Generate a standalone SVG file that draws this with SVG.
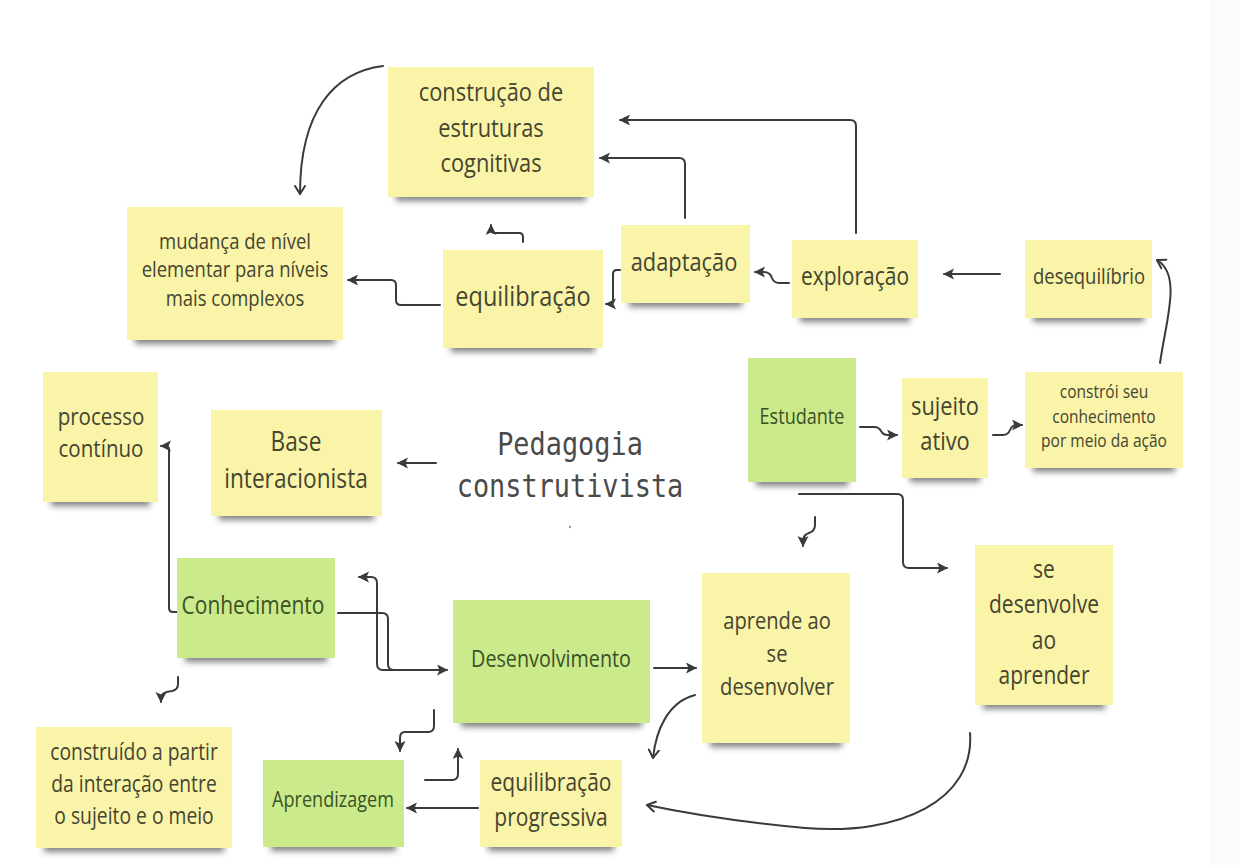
<svg xmlns="http://www.w3.org/2000/svg" width="1239" height="865" viewBox="0 0 1239 865">
  <style>
    .y { fill: #faf4a9; }
    .g { fill: #cbea8c; }
    .sh { fill: #2e2e2e; opacity: .6; filter: url(#blur); }
    .t { font-family: "Open Sans", "Liberation Sans", sans-serif; text-anchor: middle; fill: #454530; }
    .tg { font-family: "Open Sans", "Liberation Sans", sans-serif; text-anchor: middle; fill: #3a5224; }
    .mono { font-family: "DejaVu Sans Mono", "Liberation Mono", monospace; text-anchor: middle; fill: #4a4a4a; font-size: 32px; }
    .c { fill: none; stroke: #3a3a3a; stroke-width: 2; stroke-linecap: round; stroke-linejoin: round; }
    .f { marker-end: url(#arrowFilled); }
    .o { marker-end: url(#arrowOpen); }
  </style>
  <defs>
    <filter id="blur" x="-20%" y="-100%" width="140%" height="300%">
      <feGaussianBlur stdDeviation="3"/>
    </filter>
    <marker id="arrowFilled" markerUnits="userSpaceOnUse" markerWidth="13" markerHeight="13" refX="10" refY="5.5" orient="auto">
      <path d="M0,0 L11,5.5 L0,11 L2.5,5.5 Z" fill="#3a3a3a"/>
    </marker>
    <marker id="arrowOpen" markerUnits="userSpaceOnUse" markerWidth="14" markerHeight="14" refX="9" refY="6" orient="auto">
      <path d="M1,1 L9,6 L1,11" fill="none" stroke="#3a3a3a" stroke-width="2" stroke-linecap="round" stroke-linejoin="round"/>
    </marker>
  </defs>

  <rect width="1239" height="865" fill="#ffffff"/>
  <rect x="1210" y="0" width="29" height="865" fill="#fbfbfb"/>

  <!-- connectors -->
  <g id="connectors">
    <path class="c o" d="M383,66 C335,72 300,110 300,194"/>
    <path class="c f" d="M856,233 V126 Q856,120 850,120 H620"/>
    <path class="c f" d="M685,218 V164 Q685,158 679,158 H600"/>
    <path class="c f" d="M523,242 V237 Q523,233 519,233 H495 Q491,233 491,229 V225"/>
    <path class="c f" d="M440,305 H401 Q396,305 396,300 V285 Q396,280 391,280 H348"/>
    <path class="c f" d="M620,270 H617 Q613,270 613,274 V300 Q613,304 609,304 H606"/>
    <path class="c f" d="M789,283 H779 Q774,283 772,278 Q770,272 764,272 H755"/>
    <path class="c f" d="M1000,274 H944"/>
    <path class="c o" d="M1160,363 C1166,320 1182,275 1157,260"/>
    <path class="c f" d="M860,427 H874 Q879,427 881,431 Q883,435 888,435 H897"/>
    <path class="c f" d="M993,435 H1003 Q1008,435 1010,430 Q1012,425 1017,425 H1022"/>
    <path class="c f" d="M799,494 H897 Q903,494 903,500 V562 Q903,568 909,568 H947"/>
    <path class="c f" d="M815,517 V525 Q815,531 809,533 Q803,535 803,541 V546"/>
    <path class="c f" d="M436,463 H398"/>
    <path class="c f" d="M177,612 H173 Q169,612 169,608 V450 Q169,446 165,446 H161"/>
    <path class="c f" d="M338,613 H382 Q388,613 388,619 V664 Q388,670 394,670 H447"/>
    <path class="c f" d="M394,670 H383 Q377,670 377,664 V583 Q377,577 371,577 H359"/>
    <path class="c f" d="M654,668 H696"/>
    <path class="c f" d="M178,677 V684 Q178,690 172,691 Q161,692 161,698 V702"/>
    <path class="c f" d="M434,710 V726 Q434,732 428,732 H405 Q400,732 400,738 V751"/>
    <path class="c f" d="M425,780 H452 Q458,780 458,774 V749"/>
    <path class="c f" d="M478,808 H407"/>
    <path class="c o" d="M695,695 C668,702 656,730 653,758"/>
    <path class="c o" d="M970,733 C975,800 900,836 805,828 C740,822 680,812 647,805"/>
  </g>

  <!-- sticky notes -->
  <g id="construcao">
    <rect class="sh" x="396" y="187" width="190" height="14"/>
    <rect class="y" x="388" y="67" width="206" height="130"/>
    <g transform="translate(491 0) scale(.84 1)">
      <text class="t" font-size="26" y="101">construção de</text>
      <text class="t" font-size="26" y="137">estruturas</text>
      <text class="t" font-size="26" y="172">cognitivas</text>
    </g>
  </g>

  <g id="mudanca">
    <rect class="sh" x="135" y="330" width="200" height="14"/>
    <rect class="y" x="127" y="207" width="216" height="133"/>
    <g transform="translate(235 0) scale(.84 1)">
      <text class="t" font-size="22" y="249">mudança de nível</text>
      <text class="t" font-size="22" y="277">elementar para níveis</text>
      <text class="t" font-size="22" y="306">mais complexos</text>
    </g>
  </g>

  <g id="equilibracao">
    <rect class="sh" x="451" y="338" width="144" height="14"/>
    <rect class="y" x="443" y="250" width="160" height="98"/>
    <g transform="translate(523 0) scale(.84 1)">
      <text class="t" font-size="28" y="306">equilibração</text>
    </g>
  </g>

  <g id="adaptacao">
    <rect class="sh" x="629" y="293" width="113" height="14"/>
    <rect class="y" x="621" y="225" width="129" height="78"/>
    <g transform="translate(684 0) scale(.84 1)">
      <text class="t" font-size="26" y="271">adaptação</text>
    </g>
  </g>

  <g id="exploracao">
    <rect class="sh" x="800" y="308" width="110" height="14"/>
    <rect class="y" x="792" y="240" width="126" height="78"/>
    <g transform="translate(855 0) scale(.84 1)">
      <text class="t" font-size="25" y="285">exploração</text>
    </g>
  </g>

  <g id="desequilibrio">
    <rect class="sh" x="1033" y="308" width="111" height="14"/>
    <rect class="y" x="1025" y="240" width="127" height="78"/>
    <g transform="translate(1089 0) scale(.84 1)">
      <text class="t" font-size="22" y="284">desequilíbrio</text>
    </g>
  </g>

  <g id="estudante">
    <rect class="sh" x="756" y="472" width="92" height="14"/>
    <rect class="g" x="748" y="358" width="108" height="124"/>
    <g transform="translate(802 0) scale(.84 1)">
      <text class="tg" font-size="21.5" y="424">Estudante</text>
    </g>
  </g>

  <g id="sujeito-ativo">
    <rect class="sh" x="910" y="468" width="70" height="14"/>
    <rect class="y" x="902" y="378" width="86" height="100"/>
    <g transform="translate(945 0) scale(.84 1)">
      <text class="t" font-size="26" y="415">sujeito</text>
      <text class="t" font-size="26" y="450">ativo</text>
    </g>
  </g>

  <g id="constroi">
    <rect class="sh" x="1033" y="458" width="142" height="14"/>
    <rect class="y" x="1025" y="372" width="158" height="96"/>
    <g transform="translate(1104 0) scale(.84 1)">
      <text class="t" font-size="18.5" y="398">constrói seu</text>
      <text class="t" font-size="18.5" y="423">conhecimento</text>
      <text class="t" font-size="18.5" y="447">por meio da ação</text>
    </g>
  </g>

  <g id="processo">
    <rect class="sh" x="51" y="492" width="99" height="14"/>
    <rect class="y" x="43" y="372" width="115" height="130"/>
    <g transform="translate(101 0) scale(.84 1)">
      <text class="t" font-size="24.5" y="425">processo</text>
      <text class="t" font-size="24.5" y="457">contínuo</text>
    </g>
  </g>

  <g id="base">
    <rect class="sh" x="219" y="506" width="155" height="14"/>
    <rect class="y" x="211" y="410" width="171" height="106"/>
    <g transform="translate(296 0) scale(.84 1)">
      <text class="t" font-size="27" y="451">Base</text>
      <text class="t" font-size="27" y="488">interacionista</text>
    </g>
  </g>

  <g id="pedagogia">
    <g transform="translate(570 0) scale(.84 1)">
      <text class="mono" y="455">Pedagogia</text>
      <text class="mono" y="497">construtivista</text>
    </g>
    <circle cx="570" cy="527" r="1.2" fill="#999"/>
  </g>

  <g id="conhecimento">
    <rect class="sh" x="185" y="648" width="142" height="14"/>
    <rect class="g" x="177" y="558" width="158" height="100"/>
    <g transform="translate(253 0) scale(.84 1)">
      <text class="tg" font-size="25" y="614">Conhecimento</text>
    </g>
  </g>

  <g id="desenvolvimento">
    <rect class="sh" x="461" y="713" width="181" height="14"/>
    <rect class="g" x="453" y="600" width="197" height="123"/>
    <g transform="translate(551 0) scale(.84 1)">
      <text class="tg" font-size="23.5" y="667">Desenvolvimento</text>
    </g>
  </g>

  <g id="aprende">
    <rect class="sh" x="710" y="733" width="132" height="14"/>
    <rect class="y" x="702" y="573" width="148" height="170"/>
    <g transform="translate(777 0) scale(.84 1)">
      <text class="t" font-size="24" y="629">aprende ao</text>
      <text class="t" font-size="24" y="662">se</text>
      <text class="t" font-size="24" y="695">desenvolver</text>
    </g>
  </g>

  <g id="se-desenvolve">
    <rect class="sh" x="983" y="695" width="122" height="14"/>
    <rect class="y" x="975" y="545" width="138" height="160"/>
    <g transform="translate(1044 0) scale(.84 1)">
      <text class="t" font-size="25" y="578">se</text>
      <text class="t" font-size="25" y="613">desenvolve</text>
      <text class="t" font-size="25" y="649">ao</text>
      <text class="t" font-size="25" y="684">aprender</text>
    </g>
  </g>

  <g id="construido">
    <rect class="sh" x="44" y="838" width="180" height="14"/>
    <rect class="y" x="36" y="727" width="196" height="121"/>
    <g transform="translate(134 0) scale(.84 1)">
      <text class="t" font-size="23" y="760">construído a partir</text>
      <text class="t" font-size="23" y="792">da interação entre</text>
      <text class="t" font-size="23" y="824">o sujeito e o meio</text>
    </g>
  </g>

  <g id="aprendizagem">
    <rect class="sh" x="271" y="837" width="125" height="14"/>
    <rect class="g" x="263" y="760" width="141" height="87"/>
    <g transform="translate(333 0) scale(.84 1)">
      <text class="tg" font-size="21.5" y="807">Aprendizagem</text>
    </g>
  </g>

  <g id="equilibracao-progressiva">
    <rect class="sh" x="488" y="837" width="126" height="14"/>
    <rect class="y" x="480" y="760" width="142" height="87"/>
    <g transform="translate(551 0) scale(.84 1)">
      <text class="t" font-size="25" y="791">equilibração</text>
      <text class="t" font-size="25" y="826">progressiva</text>
    </g>
  </g>
</svg>
